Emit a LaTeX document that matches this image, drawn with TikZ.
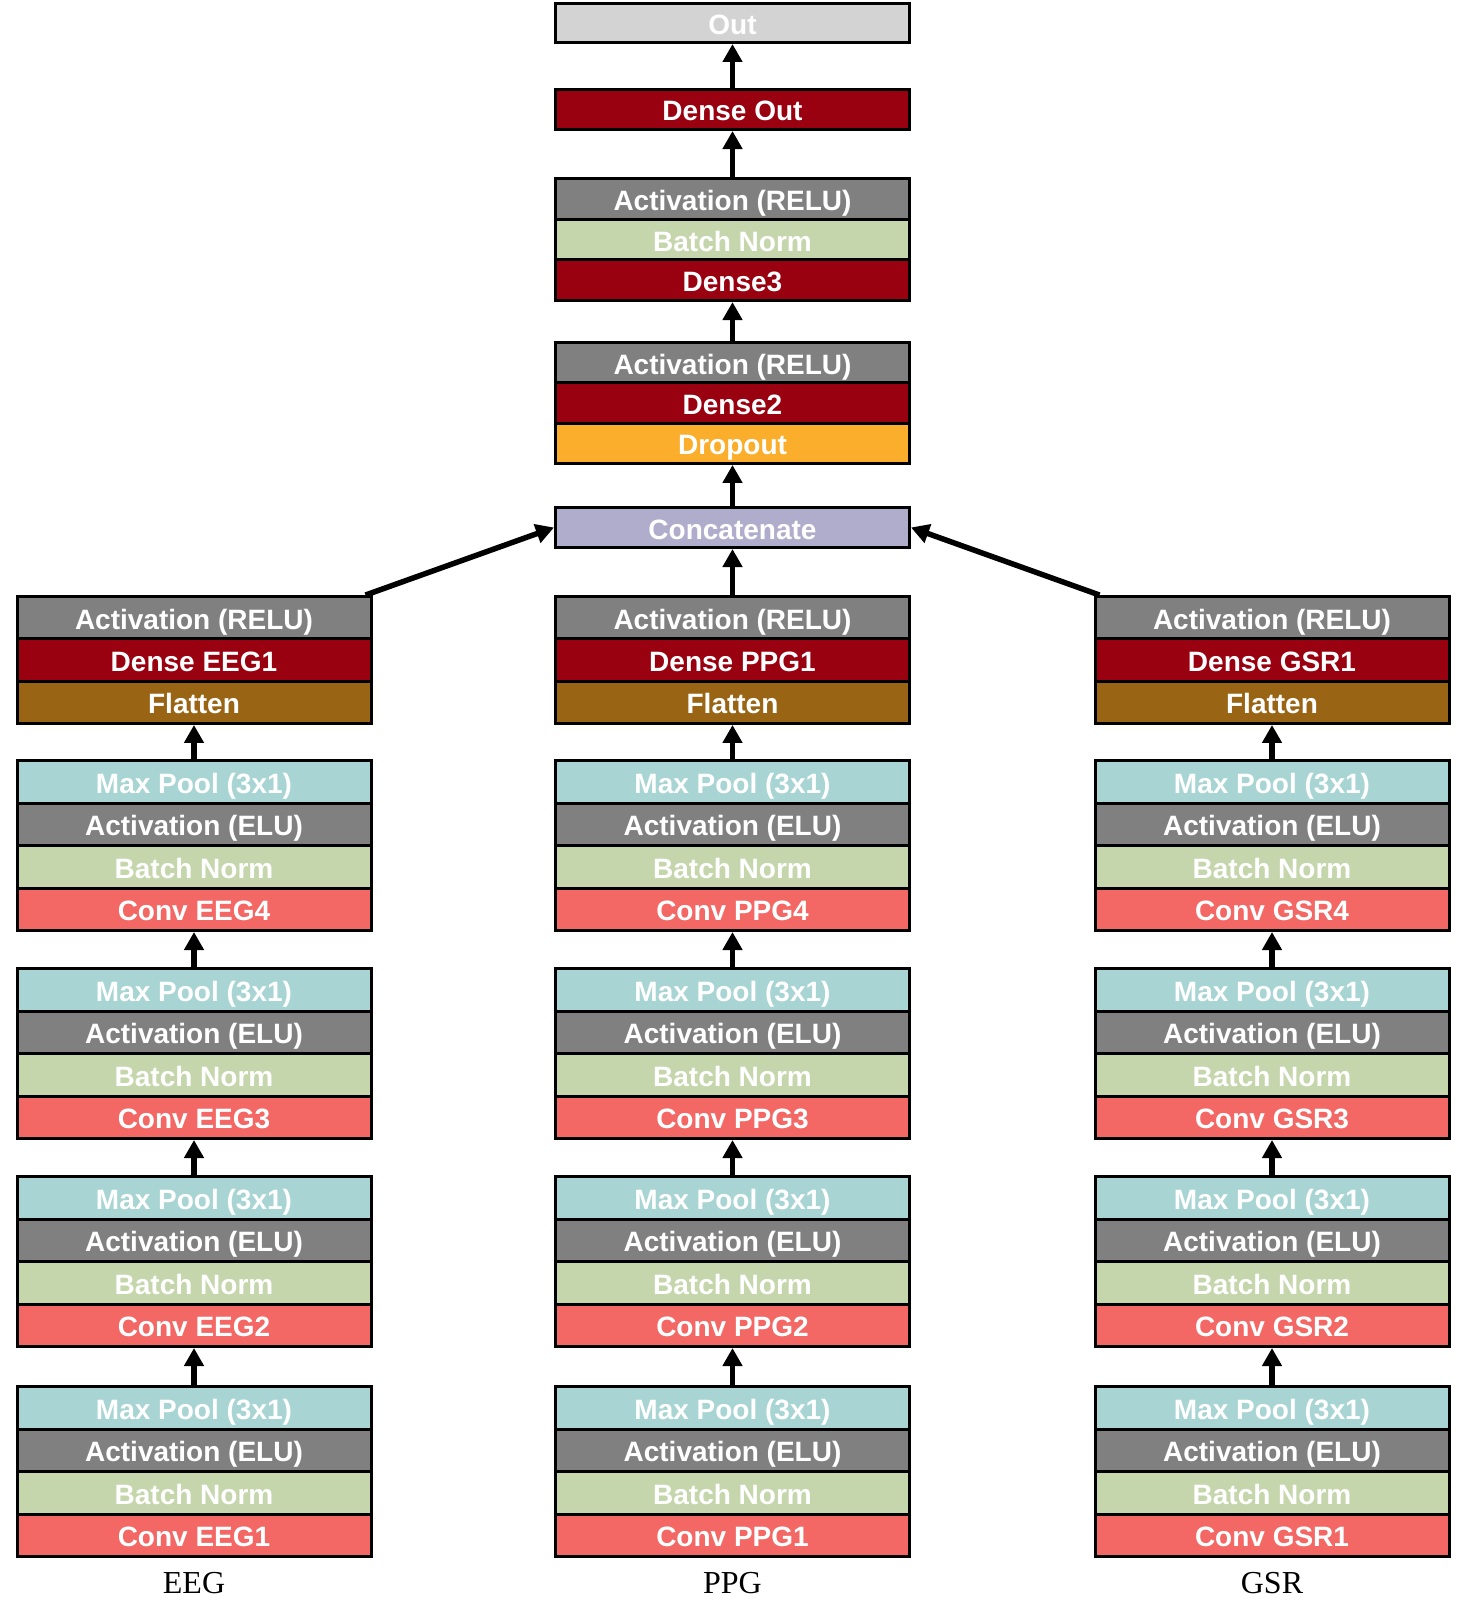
\documentclass[tikz,border=0pt]{standalone}
\usepackage{fontspec}
\newfontfamily\layfont{Liberation Sans}
\newfontfamily\capfont{Liberation Serif}
\usetikzlibrary{arrows.meta}

\definecolor{cOut}{RGB}{211,211,211}
\definecolor{cDense}{RGB}{153,0,16}
\definecolor{cAct}{RGB}{128,128,128}
\definecolor{cBN}{RGB}{197,214,172}
\definecolor{cDrop}{RGB}{251,174,44}
\definecolor{cCat}{RGB}{176,172,204}
\definecolor{cFlat}{RGB}{153,101,21}
\definecolor{cPool}{RGB}{168,212,212}
\definecolor{cConv}{RGB}{243,104,100}

\begin{document}
\begin{tikzpicture}[x=1pt,y=-1pt,
  lay/.style={draw=black, line width=3pt, minimum width=354pt, inner sep=0pt,
    text=white, font=\layfont\bfseries\fontsize{28}{30}\selectfont,
    text height=23pt, text depth=0pt},
  outl/.style={lay, fill=cOut},
  densel/.style={lay, fill=cDense},
  actl/.style={lay, fill=cAct},
  bnl/.style={lay, fill=cBN},
  dropl/.style={lay, fill=cDrop},
  catl/.style={lay, fill=cCat},
  flatl/.style={lay, fill=cFlat},
  pooll/.style={lay, fill=cPool},
  convl/.style={lay, fill=cConv},
  flow/.style={line width=5.5pt, -{Triangle[width=19pt,length=18pt]}},
  streamlabel/.style={inner sep=0pt, font=\capfont\fontsize{32}{34}\selectfont},
]
\useasboundingbox (0,0) rectangle (1462,1600);

% ---- three input streams ----
\foreach \cx/\tag/\c in {194/EEG/E, 732.5/PPG/P, 1272/GSR/G}{
  % four convolution blocks, bottom to top
  \foreach \k/\top in {1/1385, 2/1175, 3/967, 4/759}{
    \node[pooll, minimum height=42.5pt] (\c pool\k) at (\cx,\top+22.75) {Max Pool (3x1)};
    \node[actl,  minimum height=42.5pt] (\c elu\k)  at (\cx,\top+65.25) {Activation (ELU)};
    \node[bnl,   minimum height=42.5pt] (\c bn\k)   at (\cx,\top+107.75) {Batch Norm};
    \node[convl, minimum height=42.5pt] (\c conv\k) at (\cx,\top+150.25) {Conv \tag\k};
  }
  % dense head of the stream
  \node[actl,   minimum height=42.3pt] (\c act)   at (\cx,617.7) {Activation (RELU)};
  \node[densel, minimum height=42.3pt] (\c dense) at (\cx,660) {Dense \tag1};
  \node[flatl,  minimum height=42.3pt] (\c flat)  at (\cx,702.3) {Flatten};
  % stream name
  \node[streamlabel] (\c lab) at (\cx,1583.5) {\tag};
  % connectors inside the stream
  \foreach \k/\n in {1/2, 2/3, 3/4}{
    \draw[flow] (\c pool\k.north) -- (\c conv\n.south);
  }
  \draw[flow] (\c pool4.north) -- (\c flat.south);
}

% ---- fusion trunk ----
\node[catl,   minimum height=40pt]   (cat)   at (732.5,527.5) {Concatenate};
\node[actl,   minimum height=40.3pt] (act2)  at (732.5,362.7) {Activation (RELU)};
\node[densel, minimum height=40.3pt] (dns2)  at (732.5,403) {Dense2};
\node[dropl,  minimum height=40.3pt] (drop)  at (732.5,443.3) {Dropout};
\node[actl,   minimum height=40.7pt] (act3)  at (732.5,198.8) {Activation (RELU)};
\node[bnl,    minimum height=40.7pt] (bn3)   at (732.5,239.5) {Batch Norm};
\node[densel, minimum height=40.7pt] (dns3)  at (732.5,280.2) {Dense3};
\node[densel, minimum height=40pt]   (dout)  at (732.5,109.5) {Dense Out};
\node[outl,   minimum height=39pt]   (out)   at (732.5,23) {Out};

\draw[flow] ([xshift=-7pt]Eact.north east) -- (cat.west);
\draw[flow] ([xshift=6pt]Gact.north west) -- (cat.east);
\draw[flow] (Pact.north) -- (cat.south);
\draw[flow] (cat.north) -- (drop.south);
\draw[flow] (act2.north) -- (dns3.south);
\draw[flow] (act3.north) -- (dout.south);
\draw[flow] (dout.north) -- (out.south);
\end{tikzpicture}
\end{document}
